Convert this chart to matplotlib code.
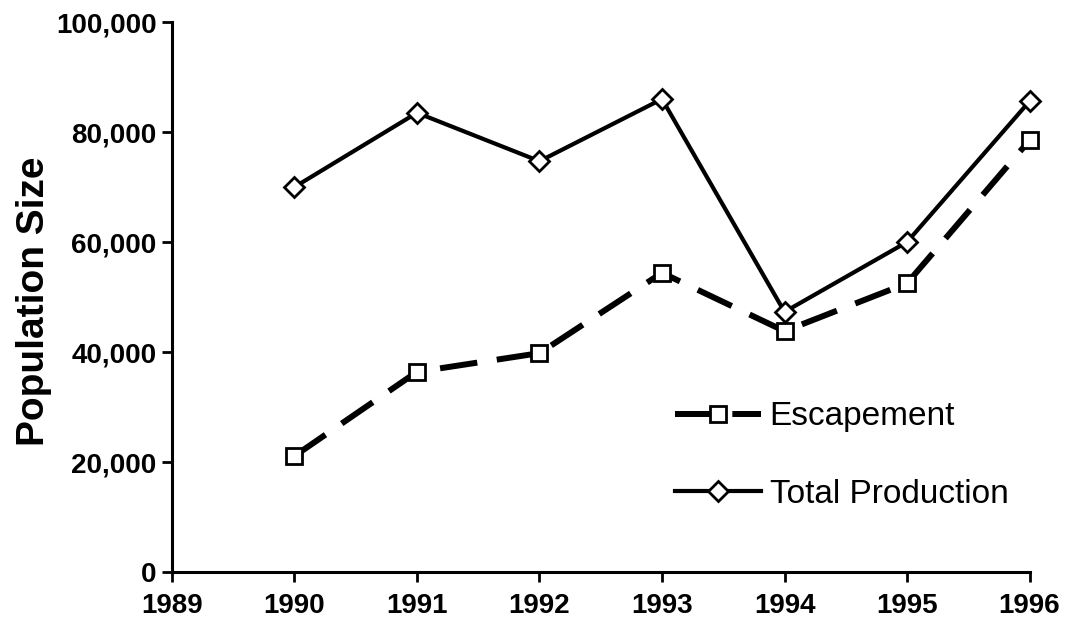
import matplotlib
matplotlib.use("Agg")
import matplotlib.pyplot as plt
from matplotlib.ticker import FuncFormatter

# Data
years = [1990, 1991, 1992, 1993, 1994, 1995, 1996]
escapement = [21100, 36400, 39800, 54400, 43800, 52500, 78500]
total_production = [70000, 83500, 74700, 86000, 47300, 60000, 85600]
x_ticks = [1989, 1990, 1991, 1992, 1993, 1994, 1995, 1996]
y_ticks = [0, 20000, 40000, 60000, 80000, 100000]

plt.rcParams["font.family"] = ["Liberation Sans", "DejaVu Sans"]

fig = plt.figure(figsize=(10.68, 6.41), dpi=100)
ax = fig.add_axes([0.161, 0.1076, 0.803, 0.858])

ax.plot(years, escapement, color="black", lw=4.3, ls=(0, (6.3, 3.3)),
        marker="s", markersize=11, markerfacecolor="white",
        markeredgecolor="black", markeredgewidth=2, label="Escapement",
        clip_on=False)
ax.plot(years, total_production, color="black", lw=3,
        marker="D", markersize=10, markerfacecolor="white",
        markeredgecolor="black", markeredgewidth=2, label="Total Production",
        clip_on=False)

ax.set_xlim(1989, 1996)
ax.set_ylim(0, 100000)
ax.set_xticks(x_ticks)
ax.set_yticks(y_ticks)
ax.yaxis.set_major_formatter(FuncFormatter(lambda v, p: f"{int(v):,}"))

for s in ["top", "right"]:
    ax.spines[s].set_visible(False)
for s in ["left", "bottom"]:
    ax.spines[s].set_linewidth(2.2)
ax.tick_params(direction="out", length=7, width=2, labelsize=20)
ax.tick_params(axis="y", pad=4)
ax.tick_params(axis="x", pad=8)
for lab in ax.get_xticklabels() + ax.get_yticklabels():
    lab.set_fontweight("bold")

ax.set_ylabel("Population Size", fontsize=28, fontweight="bold")
ax.yaxis.set_label_coords(-0.14, 0.493)

ax.legend(loc="upper left", bbox_to_anchor=(0.616, 0.40),
          bbox_transform=fig.transFigure, frameon=False, fontsize=24,
          borderpad=0, handlelength=2.6, handletextpad=0.25,
          labelspacing=1.4)

fig.savefig("out.png", dpi=100)
